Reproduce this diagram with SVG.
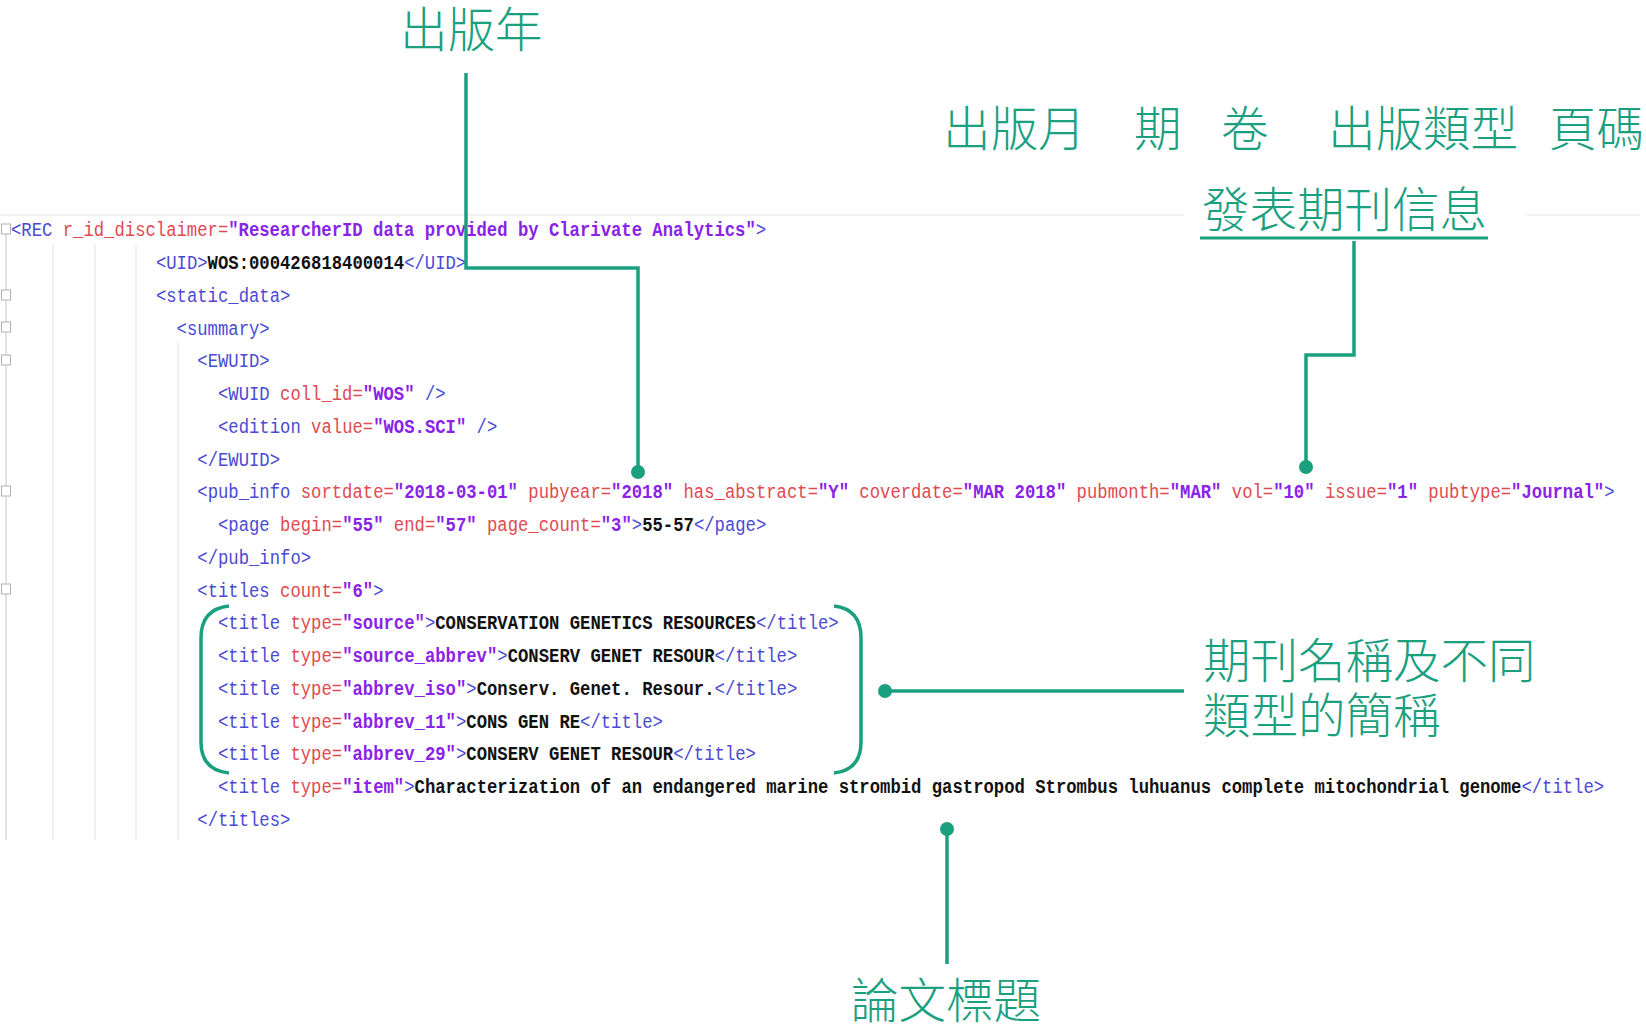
<svg xmlns="http://www.w3.org/2000/svg" width="1646" height="1025" viewBox="0 0 1646 1025">
<style>
.c{font-family:"Liberation Mono","DejaVu Sans Mono",monospace;font-size:21px}
.t{fill:#4a4ad4}
.a{fill:#e04a50}
.v{fill:#8a22e8;font-weight:bold}
.x{fill:#111;font-weight:bold}
.lbl{font-family:"Noto Sans CJK TC","Noto Sans CJK SC",sans-serif;font-size:47.5px;font-weight:300;fill:#1aa07f}
.ln{fill:none;stroke:#1aa07f;stroke-width:3.5}
.dot{fill:#1aa07f}
.g{stroke:#e6e6e6;stroke-width:1.2;fill:none}
.fold{fill:#fff;stroke:#b0b0b0;stroke-width:1}
</style>
<rect width="1646" height="1025" fill="#fff"/>
<g id="editor-bg">
<line class="g" x1="0" y1="215" x2="1184" y2="215"/>
<line class="g" x1="1527" y1="215" x2="1640" y2="215"/>
<line class="g" x1="53" y1="244" x2="53" y2="840"/>
<line class="g" x1="95" y1="244" x2="95" y2="840"/>
<line class="g" x1="136" y1="244" x2="136" y2="840"/>
<line class="g" x1="178" y1="341" x2="178" y2="840"/>
<line x1="6" y1="224" x2="6" y2="840" stroke="#c8c8c8" stroke-width="1"/>
<rect class="fold" x="1.5" y="224" width="9" height="10"/>
<rect class="fold" x="1.5" y="290" width="9" height="10"/>
<rect class="fold" x="1.5" y="322" width="9" height="10"/>
<rect class="fold" x="1.5" y="355" width="9" height="10"/>
<rect class="fold" x="1.5" y="486" width="9" height="10"/>
<rect class="fold" x="1.5" y="584" width="9" height="10"/>
</g>
<g id="code" transform="scale(0.8214 1)">
<text class="c" x="13.39" y="236.5"><tspan class="t">&lt;REC</tspan><tspan class="a"> r_id_disclaimer=</tspan><tspan class="v">"ResearcherID data provided by Clarivate Analytics"</tspan><tspan class="t">&gt;</tspan></text>
<text class="c" x="189.79" y="269.25"><tspan class="t">&lt;UID&gt;</tspan><tspan class="x">WOS:000426818400014</tspan><tspan class="t">&lt;/UID&gt;</tspan></text>
<text class="c" x="189.79" y="302"><tspan class="t">&lt;static_data&gt;</tspan></text>
<text class="c" x="214.99" y="334.75"><tspan class="t">&lt;summary&gt;</tspan></text>
<text class="c" x="240.19" y="367.5"><tspan class="t">&lt;EWUID&gt;</tspan></text>
<text class="c" x="265.39" y="400.25"><tspan class="t">&lt;WUID</tspan><tspan class="a"> coll_id=</tspan><tspan class="v">"WOS"</tspan><tspan class="t"> /&gt;</tspan></text>
<text class="c" x="265.39" y="433"><tspan class="t">&lt;edition</tspan><tspan class="a"> value=</tspan><tspan class="v">"WOS.SCI"</tspan><tspan class="t"> /&gt;</tspan></text>
<text class="c" x="240.19" y="465.75"><tspan class="t">&lt;/EWUID&gt;</tspan></text>
<text class="c" x="240.19" y="498.5"><tspan class="t">&lt;pub_info</tspan><tspan class="a"> sortdate=</tspan><tspan class="v">"2018-03-01"</tspan><tspan class="a"> pubyear=</tspan><tspan class="v">"2018"</tspan><tspan class="a"> has_abstract=</tspan><tspan class="v">"Y"</tspan><tspan class="a"> coverdate=</tspan><tspan class="v">"MAR 2018"</tspan><tspan class="a"> pubmonth=</tspan><tspan class="v">"MAR"</tspan><tspan class="a"> vol=</tspan><tspan class="v">"10"</tspan><tspan class="a"> issue=</tspan><tspan class="v">"1"</tspan><tspan class="a"> pubtype=</tspan><tspan class="v">"Journal"</tspan><tspan class="t">&gt;</tspan></text>
<text class="c" x="265.39" y="531.25"><tspan class="t">&lt;page</tspan><tspan class="a"> begin=</tspan><tspan class="v">"55"</tspan><tspan class="a"> end=</tspan><tspan class="v">"57"</tspan><tspan class="a"> page_count=</tspan><tspan class="v">"3"</tspan><tspan class="t">&gt;</tspan><tspan class="x">55-57</tspan><tspan class="t">&lt;/page&gt;</tspan></text>
<text class="c" x="240.19" y="564"><tspan class="t">&lt;/pub_info&gt;</tspan></text>
<text class="c" x="240.19" y="596.75"><tspan class="t">&lt;titles</tspan><tspan class="a"> count=</tspan><tspan class="v">"6"</tspan><tspan class="t">&gt;</tspan></text>
<text class="c" x="265.39" y="629.5"><tspan class="t">&lt;title</tspan><tspan class="a"> type=</tspan><tspan class="v">"source"</tspan><tspan class="t">&gt;</tspan><tspan class="x">CONSERVATION GENETICS RESOURCES</tspan><tspan class="t">&lt;/title&gt;</tspan></text>
<text class="c" x="265.39" y="662.25"><tspan class="t">&lt;title</tspan><tspan class="a"> type=</tspan><tspan class="v">"source_abbrev"</tspan><tspan class="t">&gt;</tspan><tspan class="x">CONSERV GENET RESOUR</tspan><tspan class="t">&lt;/title&gt;</tspan></text>
<text class="c" x="265.39" y="695"><tspan class="t">&lt;title</tspan><tspan class="a"> type=</tspan><tspan class="v">"abbrev_iso"</tspan><tspan class="t">&gt;</tspan><tspan class="x">Conserv. Genet. Resour.</tspan><tspan class="t">&lt;/title&gt;</tspan></text>
<text class="c" x="265.39" y="727.75"><tspan class="t">&lt;title</tspan><tspan class="a"> type=</tspan><tspan class="v">"abbrev_11"</tspan><tspan class="t">&gt;</tspan><tspan class="x">CONS GEN RE</tspan><tspan class="t">&lt;/title&gt;</tspan></text>
<text class="c" x="265.39" y="760.5"><tspan class="t">&lt;title</tspan><tspan class="a"> type=</tspan><tspan class="v">"abbrev_29"</tspan><tspan class="t">&gt;</tspan><tspan class="x">CONSERV GENET RESOUR</tspan><tspan class="t">&lt;/title&gt;</tspan></text>
<text class="c" x="265.39" y="793.25"><tspan class="t">&lt;title</tspan><tspan class="a"> type=</tspan><tspan class="v">"item"</tspan><tspan class="t">&gt;</tspan><tspan class="x">Characterization of an endangered marine strombid gastropod Strombus luhuanus complete mitochondrial genome</tspan><tspan class="t">&lt;/title&gt;</tspan></text>
<text class="c" x="240.19" y="826"><tspan class="t">&lt;/titles&gt;</tspan></text>
</g>
<g id="connectors">
<path class="ln" d="M466,73 V268 H638 V472"/>
<path class="ln" d="M1354,239 V355 H1306 V467"/>
<path class="ln" d="M885,691 H1184"/>
<path class="ln" d="M947,829 V964"/>
<path class="ln" d="M229,606 Q201,609 201,638 V742 Q201,770 229,773"/>
<path class="ln" d="M834,606 Q861,609 861,638 V742 Q861,770 834,773"/>
<circle class="dot" cx="638" cy="472" r="7"/>
<circle class="dot" cx="1306" cy="467" r="7"/>
<circle class="dot" cx="885" cy="691" r="7"/>
<circle class="dot" cx="947" cy="829" r="7"/>
</g>
<g id="label-pubyear"><text class="lbl" x="400" y="47">出版年</text></g>
<g id="label-fields"><text class="lbl" x="943" y="146">出版月</text><text class="lbl" x="1134" y="146">期</text><text class="lbl" x="1221" y="146">卷</text><text class="lbl" x="1328" y="146">出版類型</text><text class="lbl" x="1549" y="146">頁碼</text></g>
<g id="label-journal"><rect x="1184" y="185" width="343" height="56" fill="#fff"/><text class="lbl" x="1202" y="227">發表期刊信息</text><line x1="1200" y1="238" x2="1488" y2="238" stroke="#1aa07f" stroke-width="3"/></g>
<g id="label-titles"><text class="lbl" x="1203" y="678">期刊名稱及不同</text><text class="lbl" x="1203" y="733">類型的簡稱</text></g>
<g id="label-item"><text class="lbl" x="851" y="1018">論文標題</text></g>
</svg>
